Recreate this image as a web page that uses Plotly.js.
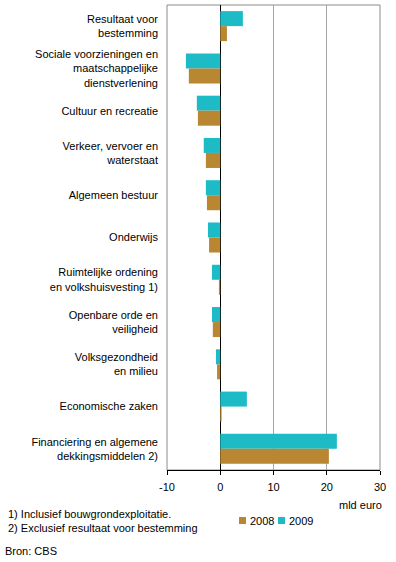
<!DOCTYPE html>
<html>
<head>
<meta charset="utf-8">
<script src="https://cdn.plot.ly/plotly-3.0.1.min.js"></script>
<style>html,body{margin:0;padding:0;background:#fff;}#chart{width:396px;height:562px;}</style>
</head>
<body>
<div id="chart"></div>
<script>
const categories = [
  "Resultaat voor<br>bestemming",
  "Sociale voorzieningen en<br>maatschappelijke<br>dienstverlening",
  "Cultuur en recreatie",
  "Verkeer, vervoer en<br>waterstaat",
  "Algemeen bestuur",
  "Onderwijs",
  "Ruimtelijke ordening<br>en volkshuisvesting 1)",
  "Openbare orde en<br>veiligheid",
  "Volksgezondheid<br>en milieu",
  "Economische zaken",
  "Financiering en algemene<br>dekkingsmiddelen 2)"
];
const values2008 = [1.25, -5.9, -4.2, -2.7, -2.5, -2.1, -0.25, -1.4, -0.6, 0.25, 20.4];
const values2009 = [4.25, -6.45, -4.4, -3.1, -2.7, -2.3, -1.55, -1.55, -0.8, 5.0, 21.9];
const seriesNames = ["2008", "2009"];
const xTicks = [-10, 0, 10, 20, 30];
const footnotes = ["1) Inclusief bouwgrondexploitatie.", "2) Exclusief resultaat voor bestemming"];
const sourceText = "Bron: CBS";
const unitText = "mld euro";

const colors = {"2008": "#B98632", "2009": "#1DBBC6"};
const font = {family: "Liberation Sans, Arial, sans-serif", size: 11, color: "#000"};

const traces = [
  {type: "bar", orientation: "h", name: seriesNames[1], y: categories, x: values2009,
   marker: {color: colors["2009"]}, hoverinfo: "x"},
  {type: "bar", orientation: "h", name: seriesNames[0], y: categories, x: values2008,
   marker: {color: colors["2008"]}, hoverinfo: "x"}
];

const L = 167, R = 380, T = 5, B = 470;
const pw = R - L, ph = B - T;
const px = v => (v - L) / pw;
const py = v => (B - v) / ph;

// manual legend (key squares + labels)
const legendItems = [
  {name: seriesNames[0], sq: 239, tx: 248},
  {name: seriesNames[1], sq: 278, tx: 287}
];
const legendShapes = legendItems.map(it => ({
  type: "rect", xref: "paper", yref: "paper",
  x0: px(it.sq), x1: px(it.sq + 7), y0: py(524), y1: py(517),
  fillcolor: colors[it.name], line: {width: 0}
}));
const legendAnn = legendItems.map(it => ({
  text: it.name, xref: "paper", yref: "paper", x: px(it.tx), y: py(520.5),
  xanchor: "left", yanchor: "middle", showarrow: false, font: font
}));

const layout = {
  width: 396, height: 562,
  margin: {l: L, r: 396 - R, t: T, b: 562 - B, pad: 0, autoexpand: false},
  paper_bgcolor: "#fff", plot_bgcolor: "#fff",
  font: font,
  barmode: "group", bargap: 0.29, bargroupgap: 0,
  showlegend: false,
  xaxis: {range: [-10, 30], tickvals: xTicks, ticktext: xTicks.map(String),
          showgrid: true, gridcolor: "#A6A6A6", gridwidth: 1,
          zeroline: true, zerolinecolor: "#000", zerolinewidth: 1.3,
          showline: true, linecolor: "#000", linewidth: 1,
          ticks: "outside", ticklen: 4, tickcolor: "#000", tickfont: font, fixedrange: true,
          ticklabelstandoff: 3, automargin: false},
  yaxis: {type: "category", autorange: "reversed", showgrid: false, zeroline: false,
          showline: false, ticks: "", tickfont: font, ticklabelstandoff: 8, fixedrange: true,
          automargin: false},
  shapes: [
    {type: "rect", xref: "paper", yref: "paper", x0: 0, x1: 1, y0: 0, y1: 1,
     line: {color: "#8C8C8C", width: 1}, layer: "below"}
  ].concat(legendShapes),
  annotations: [
    {text: footnotes[0], xref: "paper", yref: "paper", x: px(6), y: py(514), xanchor: "left", yanchor: "middle", showarrow: false, font: font},
    {text: footnotes[1], xref: "paper", yref: "paper", x: px(6), y: py(528), xanchor: "left", yanchor: "middle", showarrow: false, font: font},
    {text: sourceText, xref: "paper", yref: "paper", x: px(3), y: py(551), xanchor: "left", yanchor: "middle", showarrow: false, font: font},
    {text: unitText, xref: "paper", yref: "paper", x: px(384), y: py(505), xanchor: "right", yanchor: "middle", showarrow: false, font: font}
  ].concat(legendAnn)
};

Plotly.newPlot("chart", traces, layout, {displayModeBar: false, staticPlot: true});
</script>
</body>
</html>
